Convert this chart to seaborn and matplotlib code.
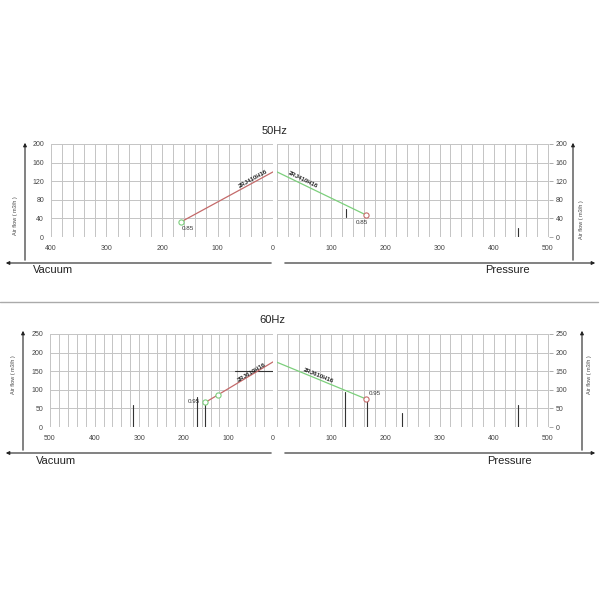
import matplotlib
matplotlib.use("Agg")
import matplotlib.pyplot as plt
import seaborn as sns
import numpy as np
import pandas as pd
from matplotlib.lines import Line2D

# ---------------- data ----------------
model_50 = "2RJ410H16"
model_60 = "2RJ610H16"

vac50_x = [165, 0]
vac50_y = [33, 140]
vac50_mark_x = [165]
vac50_mark_y = [33]
vac50_label = "0.85"

pre50_x = [0, 165]
pre50_y = [140, 47]
pre50_mark_x = [165]
pre50_mark_y = [47]
pre50_label = "0.85"

vac60_x = [152, 124, 0]
vac60_y = [66, 86, 175]
vac60_mark_x = [152, 124]
vac60_mark_y = [66, 86]
vac60_label = "0.95"

pre60_x = [0, 165]
pre60_y = [174, 75]
pre60_mark_x = [165]
pre60_mark_y = [75]
pre60_label = "0.95"

# short dark reference strokes seen in the picture: (x, y0, y1)
vac50_strokes = []
pre50_strokes = [(127, 43, 60), (444, 0, 19)]
vac60_strokes = [(314, 0, 59), (171, 0, 81), (152, 0, 62)]
vac60_hstroke = [(150, 0, 85)]  # (y, x0, x1)
pre60_strokes = [(126, 0, 95), (167, 0, 75), (230, 0, 37), (445, 0, 59)]

yticks_50 = [0, 40, 80, 120, 160, 200]
yticks_60 = [0, 50, 100, 150, 200, 250]
xticks_vac50 = [400, 300, 200, 100, 0]
xticks_vac60 = [500, 400, 300, 200, 100, 0]
xticks_pre = [100, 200, 300, 400, 500]

# ---------------- style ----------------
sns.set_style("white")
plt.rcParams['font.family'] = ['Liberation Sans', 'DejaVu Sans']

W = H = 600
fig = plt.figure(figsize=(6, 6), dpi=100)

def fx(px):
    return px / W

def fy(py):
    return 1 - py / H

def add_ax(l, r, t, b):
    return fig.add_axes([fx(l), fy(b), fx(r) - fx(l), (b - t) / H])

GRID = "#c4c4c4"
RED = "#c46a6a"
GREEN = "#7ccf7c"
TXT = "#444444"

def style_panel(ax, xlim, ylim, xt, yt, vstep, right=False):
    ax.set_xlim(*xlim)
    ax.set_ylim(*ylim)
    lo, hi = min(xlim), max(xlim)
    for v in np.arange(0, hi + 0.1, vstep):
        if lo <= v <= hi:
            ax.axvline(v, color=GRID, lw=0.7, zorder=0)
    for v in yt:
        ax.axhline(v, color=GRID, lw=0.7, zorder=0)
    for s in ax.spines.values():
        s.set_visible(False)
    ax.set_xticks(xt)
    ax.set_xticklabels([str(v) for v in xt])
    ax.set_yticks(yt)
    ax.set_yticklabels([str(v) for v in yt])
    ax.tick_params(axis='x', length=0, pad=6, labelsize=5, labelcolor=TXT)
    ax.tick_params(axis='y', length=3, width=0.5, color="#888888", pad=2,
                   labelsize=5, labelcolor=TXT)
    if right:
        ax.yaxis.tick_right()
    ax.set_xlabel("")
    ax.set_ylabel("")

def draw_curve(ax, xs, ys, lc, mx, my, mc, lab, lab_off, txt, txt_xy, rot):
    df = pd.DataFrame({"x": xs, "y": ys})
    sns.lineplot(data=df, x="x", y="y", ax=ax, color=lc, lw=0.9,
                 sort=False, estimator=None, zorder=3)
    ax.set_xlabel("")
    ax.set_ylabel("")
    ax.scatter(mx, my, s=14, facecolors="white", edgecolors=mc,
               linewidths=0.8, zorder=4)
    ax.annotate(lab, (mx[0], my[0]), xytext=lab_off, textcoords="offset points",
                fontsize=4.5, color="#333333", ha="center", va="center")
    ax.text(txt_xy[0], txt_xy[1], txt, rotation=rot, fontsize=4.3,
            fontweight="bold", color="#222222", ha="center", va="center",
            rotation_mode="anchor", zorder=5)

def strokes(ax, vs, hs=()):
    for x, y0, y1 in vs:
        ax.plot([x, x], [y0, y1], color="#333333", lw=0.8, zorder=2)
    for y, x0, x1 in hs:
        ax.plot([x0, x1], [y, y], color="#333333", lw=0.8, zorder=2)

# ---------------- 50Hz ----------------
ax1 = add_ax(51, 273, 144, 237)
style_panel(ax1, (400, 0), (0, 200), xticks_vac50, yticks_50, 20)
draw_curve(ax1, vac50_x, vac50_y, RED, vac50_mark_x, vac50_mark_y, GREEN,
           vac50_label, (5, -5), model_50, (36, 124), 29)
strokes(ax1, vac50_strokes)

ax2 = add_ax(277, 549, 144, 237)
style_panel(ax2, (0, 502), (0, 200), xticks_pre, yticks_50, 20, right=True)
draw_curve(ax2, pre50_x, pre50_y, GREEN, pre50_mark_x, pre50_mark_y, RED,
           pre50_label, (-3, -5), model_50, (48, 123), -26)
strokes(ax2, pre50_strokes)

# ---------------- 60Hz ----------------
ax3 = add_ax(50, 273, 334, 427)
style_panel(ax3, (500, 0), (0, 250), xticks_vac60, yticks_60, 20)
draw_curve(ax3, vac60_x, vac60_y, RED, vac60_mark_x, vac60_mark_y, GREEN,
           vac60_label, (-8, 1), model_60, (47, 147), 31)
strokes(ax3, vac60_strokes, vac60_hstroke)

ax4 = add_ax(277, 549, 334, 427)
style_panel(ax4, (0, 502), (0, 250), xticks_pre, yticks_60, 20, right=True)
draw_curve(ax4, pre60_x, pre60_y, GREEN, pre60_mark_x, pre60_mark_y, RED,
           pre60_label, (6, 4), model_60, (76, 139), -22)
strokes(ax4, pre60_strokes)

# ---------------- frame lines, arrows, labels ----------------
def fline(x0, y0, x1, y1, color="#333333", lw=0.8):
    fig.add_artist(Line2D([fx(x0), fx(x1)], [fy(y0), fy(y1)],
                          transform=fig.transFigure, color=color, lw=lw))

def farrow(x0, y0, x1, y1):
    # arrow head at (x1, y1)
    fig.add_artist(matplotlib.patches.FancyArrowPatch(
        (fx(x0), fy(y0)), (fx(x1), fy(y1)), transform=fig.transFigure,
        arrowstyle="-|>", mutation_scale=5, color="#222222", lw=0.8))

# 50Hz frame
farrow(274, 263, 3, 263)
farrow(282, 263, 598, 263)
farrow(25, 263, 25, 140)
farrow(573, 263, 573, 140)
# 60Hz frame
farrow(274, 453, 3, 453)
farrow(282, 453, 598, 453)
farrow(23, 453, 23, 328)
farrow(582, 453, 582, 328)
# separator
fline(0, 302, 598, 302, color="#aaaaaa", lw=1.0)

fig.text(fx(275), fy(131), "50Hz", fontsize=8, ha="center", va="center", color="#222222")
fig.text(fx(272), fy(320), "60Hz", fontsize=8, ha="center", va="center", color="#222222")

fig.text(fx(53), fy(270), "Vacuum", fontsize=8, ha="center", va="center", color="#222222")
fig.text(fx(507), fy(270), "Pressure", fontsize=8, ha="center", va="center", color="#222222")
fig.text(fx(56), fy(461), "Vacuum", fontsize=8, ha="center", va="center", color="#222222")
fig.text(fx(509), fy(461), "Pressure", fontsize=8, ha="center", va="center", color="#222222")

af = "Air flow ( m3/h )"
fig.text(fx(16), fy(216), af, fontsize=4, rotation=90, ha="center", va="center", color=TXT)
fig.text(fx(581), fy(220), af, fontsize=4, rotation=90, ha="center", va="center", color=TXT)
fig.text(fx(14), fy(375), af, fontsize=4, rotation=90, ha="center", va="center", color=TXT)
fig.text(fx(590), fy(375), af, fontsize=4, rotation=90, ha="center", va="center", color=TXT)

fig.savefig("out.png", dpi=100)
